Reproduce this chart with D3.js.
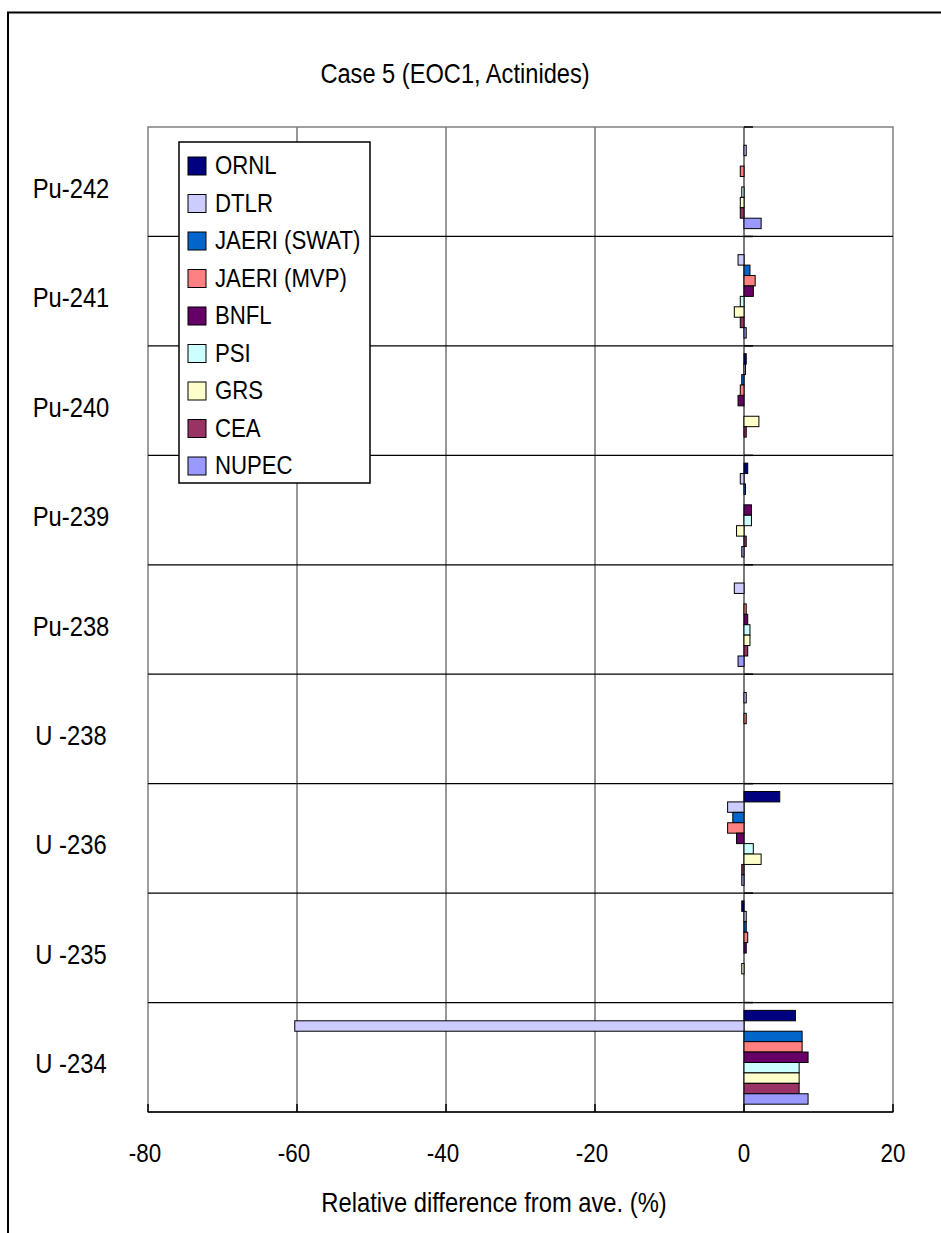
<!DOCTYPE html>
<html>
<head>
<meta charset="utf-8">
<script src="https://cdn.jsdelivr.net/npm/d3@7"></script>
<style>
  html, body { margin: 0; padding: 0; background: #fff; }
  text { font-family: "Liberation Sans", Arial, sans-serif; fill: #000; }
</style>
</head>
<body>
<svg id="chart" width="941" height="1233"></svg>
<script>
// ---- data ----
const categories = ["Pu-242", "Pu-241", "Pu-240", "Pu-239", "Pu-238", "U -238", "U -236", "U -235", "U -234"];
const seriesNames = ["ORNL", "DTLR", "JAERI (SWAT)", "JAERI (MVP)", "BNFL", "PSI", "GRS", "CEA", "NUPEC"];
const seriesColors = ["#000080", "#CCCCFF", "#0066CC", "#FF8080", "#660066", "#CCFFFF", "#FFFFCC", "#993366", "#9999FF"];
const ORNL  = [0,    0,    0.3,  0.5,  0,    0,   4.8, -0.3,   6.9];
const DTLR  = [0.3, -0.8,  0.2, -0.5, -1.3,  0.3, -2.2,  0.3, -60.3];
const SWAT  = [0,    0.8, -0.3,  0.2,  0,    0,  -1.5,  0.3,   7.8];
const MVP   = [-0.5, 1.5, -0.5,  0,    0.3,  0.3, -2.2,  0.5,   7.8];
const BNFL  = [0,    1.25,-0.8,  1.0,  0.5,  0,  -1.0,  0.3,   8.6];
const PSI   = [-0.3,-0.5,  0,    1.0,  0.8,  0,   1.25, 0,     7.4];
const GRS   = [-0.5,-1.3,  2.0, -1.0,  0.8,  0,   2.3, -0.3,   7.4];
const CEA   = [-0.5,-0.5,  0.3,  0.3,  0.5,  0,  -0.3,  0,     7.4];
const NUPEC = [2.3,  0.3,  0,   -0.3, -0.8,  0,  -0.3,  0,     8.6];
const seriesValues = [ORNL, DTLR, SWAT, MVP, BNFL, PSI, GRS, CEA, NUPEC];
const xTicks = [-80, -60, -40, -20, 0, 20];
const titleText = "Case 5 (EOC1, Actinides)";
const xTitle = "Relative difference from ave. (%)";

(function () {
// ---- layout ----
const svg = d3.select("#chart");
const pL = 148, pR = 893, pT = 127, pB = 1112;

const x = d3.scaleLinear().domain([-80, 20]).range([pL, pR]);
const y = d3.scaleBand().domain(categories).range([pT, pB]);
const ys = d3.scaleBand().domain(seriesNames).range([0, y.bandwidth()]).paddingInner(0).paddingOuter(0.75);

function txt(g, str, tx, ty, size, sx, anchor) {
  return g.append("text")
    .attr("transform", `translate(${tx},${ty}) scale(${sx},1)`)
    .attr("text-anchor", anchor)
    .style("font-size", size + "px")
    .text(str);
}

// outer frame (extends beyond window on right/bottom)
svg.append("rect").attr("x", 8).attr("y", 12.5).attr("width", 1000).attr("height", 1400)
  .attr("fill", "#fff").attr("stroke", "#000").attr("stroke-width", 2);

// title
txt(svg, titleText, 455, 83, 27.5, 0.86, "middle");

// vertical gridlines
svg.append("g").selectAll("line").data(xTicks.filter(d => d > -80 && d < 20 && d !== 0)).join("line")
  .attr("x1", d => x(d)).attr("x2", d => x(d)).attr("y1", pT).attr("y2", pB)
  .attr("stroke", "#303030").attr("stroke-width", 1);

// plot border (gray)
svg.append("rect").attr("x", pL).attr("y", pT).attr("width", pR - pL).attr("height", pB - pT)
  .attr("fill", "none").attr("stroke", "#808080").attr("stroke-width", 1.5);

// category separator lines
const bounds = categories.slice(1).map(c => y(c));
svg.append("g").selectAll("line").data(bounds).join("line")
  .attr("x1", pL).attr("x2", pR).attr("y1", d => d).attr("y2", d => d)
  .attr("stroke", "#000").attr("stroke-width", 1.2);

// zero (category) axis
svg.append("line").attr("x1", x(0)).attr("x2", x(0)).attr("y1", pT).attr("y2", pB)
  .attr("stroke", "#333").attr("stroke-width", 1.3);
svg.append("g").selectAll("line").data([pT].concat(bounds)).join("line")
  .attr("x1", x(0)).attr("x2", x(0) + 9).attr("y1", d => d).attr("y2", d => d)
  .attr("stroke", "#000").attr("stroke-width", 1.5);

// bars
const barG = svg.append("g");
seriesNames.forEach((s, si) => {
  barG.append("g").selectAll("rect").data(seriesValues[si]).join("rect")
    .attr("x", d => x(Math.min(0, d)))
    .attr("width", d => Math.abs(x(d) - x(0)))
    .attr("y", (d, i) => y(categories[i]) + ys(s))
    .attr("height", ys.bandwidth())
    .attr("fill", seriesColors[si])
    .attr("stroke", "#000").attr("stroke-width", 1);
});

// x axis line + ticks
svg.append("line").attr("x1", pL).attr("x2", pR).attr("y1", pB).attr("y2", pB)
  .attr("stroke", "#000").attr("stroke-width", 1.5);
svg.append("g").selectAll("line").data(xTicks).join("line")
  .attr("x1", d => x(d)).attr("x2", d => x(d)).attr("y1", pB - 8).attr("y2", pB)
  .attr("stroke", "#000").attr("stroke-width", 1.5);

// tick labels
const tl = svg.append("g");
xTicks.forEach(t => txt(tl, String(t), x(t) - (t < 0 ? 3 : 0), 1162, 26, 0.86, "middle"));

// axis title
txt(svg, xTitle, 494, 1212, 27, 0.88, "middle");

// category labels
const cl = svg.append("g");
categories.forEach(c => txt(cl, c, 71, y(c) + y.bandwidth() / 2 + 16, 28, 0.85, "middle"));

// legend
const lg = svg.append("g");
lg.append("rect").attr("x", 179).attr("y", 142).attr("width", 191).attr("height", 341)
  .attr("fill", "#fff").attr("stroke", "#000").attr("stroke-width", 1.5);
seriesNames.forEach((s, i) => {
  lg.append("rect").attr("x", 188).attr("y", 157 + 37.5 * i).attr("width", 18).attr("height", 18)
    .attr("fill", seriesColors[i]).attr("stroke", "#000").attr("stroke-width", 1);
  txt(lg, s, 215, 174 + 37.5 * i, 25.5, 0.87, "start");
});
})();
</script>
</body>
</html>
